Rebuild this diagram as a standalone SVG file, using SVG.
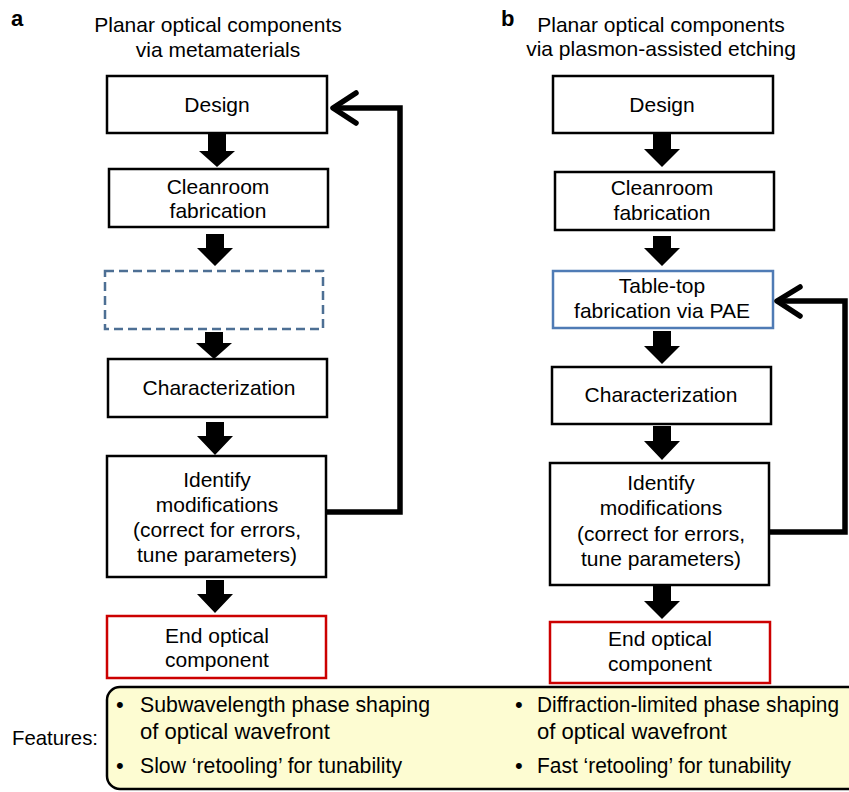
<svg xmlns="http://www.w3.org/2000/svg" width="849" height="792" viewBox="0 0 849 792">
<style>
text{font-family:"Liberation Sans",Arial,sans-serif;font-size:21px;fill:#000}
.c{text-anchor:middle}
.lbl{font-weight:bold;font-size:22px}
.box{fill:#fff;stroke:#000;stroke-width:2.5}
.dash{fill:#fff;stroke:#4d6f94;stroke-width:2.5;stroke-dasharray:9 5}
.blue{fill:#fff;stroke:#4f7bb5;stroke-width:2.5}
.red{fill:#fff;stroke:#cc0000;stroke-width:2.5}
.blk{fill:#000}
.fb{fill:none;stroke:#000;stroke-width:5.5;stroke-linejoin:miter}
.chev{fill:none;stroke:#000;stroke-width:5.5;stroke-linecap:round;stroke-linejoin:round}
.feat{fill:#fdfcd2;stroke:#000;stroke-width:2.5}
.ft{font-size:22px}
</style>
<text class="lbl" x="11" y="26">a</text>
<text class="lbl" x="501" y="26">b</text>
<text class="c" x="218" y="32">Planar optical components</text>
<text class="c" x="218" y="57">via metamaterials</text>
<text class="c" x="661" y="32">Planar optical components</text>
<text class="c" x="661" y="56">via plasmon-assisted etching</text>

<g id="a-design"><rect class="box" x="107" y="76" width="220" height="57"/><text class="c" x="217" y="112">Design</text></g>
<g id="a-cleanroom"><rect class="box" x="109" y="169" width="219" height="58"/><text class="c" x="218" y="194">Cleanroom</text><text class="c" x="218" y="218">fabrication</text></g>
<g id="a-blank"><rect class="dash" x="105" y="271" width="218" height="58"/></g>
<g id="a-char"><rect class="box" x="108" y="359" width="219" height="58"/><text class="c" x="219" y="395">Characterization</text></g>
<g id="a-identify"><rect class="box" x="107" y="456" width="219" height="121"/><text class="c" x="217" y="487">Identify</text><text class="c" x="217" y="512">modifications</text><text class="c" x="217" y="537">(correct for errors,</text><text class="c" x="217" y="562">tune parameters)</text></g>
<g id="a-end"><rect class="red" x="107" y="616" width="219" height="62"/><text class="c" x="217" y="643">End optical</text><text class="c" x="217" y="667">component</text></g>

<g id="b-design"><rect class="box" x="553" y="76" width="220" height="57"/><text class="c" x="662" y="112">Design</text></g>
<g id="b-cleanroom"><rect class="box" x="555" y="172" width="219" height="58"/><text class="c" x="662" y="195">Cleanroom</text><text class="c" x="662" y="220">fabrication</text></g>
<g id="b-tabletop"><rect class="blue" x="553" y="271" width="220" height="57"/><text class="c" x="662" y="293">Table-top</text><text class="c" x="662" y="318">fabrication via PAE</text></g>
<g id="b-char"><rect class="box" x="552" y="367" width="219" height="57"/><text class="c" x="661" y="402">Characterization</text></g>
<g id="b-identify"><rect class="box" x="550" y="463" width="219" height="122"/><text class="c" x="661" y="490">Identify</text><text class="c" x="661" y="515">modifications</text><text class="c" x="661" y="541">(correct for errors,</text><text class="c" x="661" y="566">tune parameters)</text></g>
<g id="b-end"><rect class="red" x="550" y="622" width="220" height="61"/><text class="c" x="660" y="646">End optical</text><text class="c" x="660" y="671">component</text></g>

<g id="connectors">
<polygon class="blk" points="208,134 226,134 226,151 235,151 217,167 199,151 208,151"/>
<polygon class="blk" points="206,234 224,234 224,248 233,248 215,266 197,248 206,248"/>
<polygon class="blk" points="205,332 223,332 223,343 232,343 214,359 196,343 205,343"/>
<polygon class="blk" points="206,422 224,422 224,436 233,436 215,455 197,436 206,436"/>
<polygon class="blk" points="206,580 224,580 224,594 233,594 215,613 197,594 206,594"/>
<polyline class="fb" points="326,512 400,512 400,108 334,108"/>
<polyline class="chev" points="356,93 333,108 356,123"/>

<polygon class="blk" points="653,134 671,134 671,149 680,149 662,167 644,149 653,149"/>
<polygon class="blk" points="653,236 671,236 671,248 680,248 662,266 644,248 653,248"/>
<polygon class="blk" points="653,331 671,331 671,346 680,346 662,364 644,346 653,346"/>
<polygon class="blk" points="653,426 671,426 671,441 680,441 662,460 644,441 653,441"/>
<polygon class="blk" points="653,586 671,586 671,601 680,601 662,619 644,601 653,601"/>
<polyline class="fb" points="769,532 845,532 845,301 777,301"/>
<polyline class="chev" points="800,287 777,301 800,316"/>
</g>

<g id="features">
<text x="12" y="745" textLength="86" lengthAdjust="spacingAndGlyphs">Features:</text>
<rect class="feat" x="107" y="687" width="760" height="102" rx="13" ry="13"/>
<text class="ft" x="116" y="712">•</text><text class="ft" x="140" y="712" textLength="290" lengthAdjust="spacingAndGlyphs">Subwavelength phase shaping</text>
<text class="ft" x="140" y="739" textLength="190" lengthAdjust="spacingAndGlyphs">of optical wavefront</text>
<text class="ft" x="116" y="773">•</text><text class="ft" x="140" y="773" textLength="262" lengthAdjust="spacingAndGlyphs">Slow ‘retooling’ for tunability</text>
<text class="ft" x="515" y="712">•</text><text class="ft" x="537" y="712" textLength="302" lengthAdjust="spacingAndGlyphs">Diffraction-limited phase shaping</text>
<text class="ft" x="537" y="739" textLength="190" lengthAdjust="spacingAndGlyphs">of optical wavefront</text>
<text class="ft" x="515" y="773">•</text><text class="ft" x="537" y="773" textLength="254" lengthAdjust="spacingAndGlyphs">Fast ‘retooling’ for tunability</text>
</g>
</svg>
